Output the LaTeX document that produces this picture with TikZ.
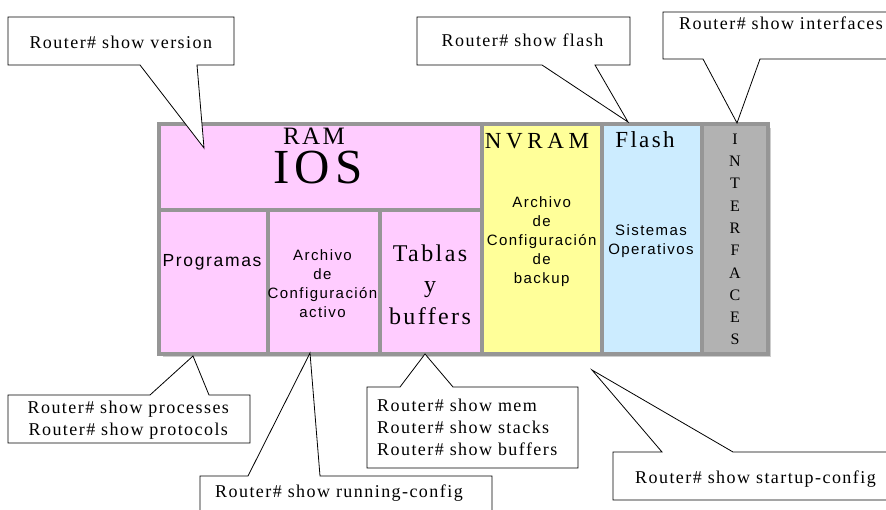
\documentclass[tikz,border=0pt]{standalone}
\usepackage{fontspec}
\setmainfont{Liberation Serif}
\newfontfamily\seriftrack[LetterSpace=10]{Liberation Serif}
\newfontfamily\serifwide[LetterSpace=20]{Liberation Serif}
\newfontfamily\callfont[LetterSpace=8]{Liberation Serif}
\newfontfamily\sanstrack[LetterSpace=9.5]{Liberation Sans}
\definecolor{rampink}{HTML}{FFCCFF}
\definecolor{nvyellow}{HTML}{FFFF99}
\definecolor{flashblue}{HTML}{CCECFF}
\definecolor{ifgray}{HTML}{B2B2B2}
\definecolor{rimgray}{HTML}{969696}
\definecolor{shadowgray}{HTML}{CDCDCD}
\tikzset{
  cell/.style={draw=rimgray,line width=4pt},
  balloon/.style={draw=black,fill=white,line width=0.8pt},
  cmd/.style={font=\callfont\fontsize{18}{22}\selectfont,inner sep=0pt,anchor=base},
  memname/.style={font=\seriftrack\fontsize{25}{28}\selectfont,inner sep=0pt,anchor=base},
  cellsans/.style={font=\sanstrack\fontsize{15}{19}\selectfont,inner sep=0pt,align=center},
}

\begin{document}
\begin{tikzpicture}[x=1pt,y=-1pt]
  \useasboundingbox (0,0) rectangle (886,510);
  % memory block
  \fill[shadowgray] (163,128) rectangle (771,357);
  \draw[cell,fill=rampink] (159,124) rectangle (482,210);
  \draw[cell,fill=rampink] (159,210) rectangle (268,354);
  \draw[cell,fill=rampink] (268,210) rectangle (380,354);
  \draw[cell,fill=rampink] (380,210) rectangle (482,354);
  \draw[cell,fill=nvyellow] (482,124) rectangle (602,354);
  \draw[cell,fill=flashblue] (602,124) rectangle (702,354);
  \draw[cell,fill=ifgray] (702,124) rectangle (768,354);

  \node[memname] (ram) at (314,145) {RAM};
  \node[memname,font=\seriftrack\fontsize{49}{52}\selectfont,text height=32pt,text depth=0pt] (ios) at (318,184) {IOS};
  \node[memname,font=\serifwide\fontsize{23}{28}\selectfont] (nvram) at (537,148.3) {NVRAM};
  \node[memname,font=\seriftrack\fontsize{23}{28}\selectfont] (flash) at (645,148) {Flash};
  \node[inner sep=0pt,anchor=base,font=\sanstrack\fontsize{17.5}{19}\selectfont] (prog) at (212,266.7) {Programas};
  \node[cellsans] (actcfg) at (322.5,283.8) {Archivo\\de\\Configuración\\activo};
  \node[inner sep=0pt,align=center,font=\seriftrack\fontsize{24}{31.5}\selectfont] (tablas) at (430,284.5) {Tablas\\y\\buffers};
  \node[cellsans] (bakcfg) at (541.7,241.3) {Archivo\\de\\Configuración\\de\\backup};
  \node[cellsans] (sistemas) at (651,241) {Sistemas\\Operativos};
  \foreach \l [count=\i] in {I,N,T,E,R,F,A,C,E,S}
    \node[inner sep=0pt,anchor=base,font=\fontsize{16}{18}\selectfont] (if\i) at (735,{144.3+22.3*(\i-1)}) {\l};

  % callouts
  \coordinate (tver) at (204,148);
  \draw[balloon] (140,65) -- (8,65) -- (8,17) -- (234,17) -- (234,65) -- (197,65) -- (tver) -- cycle;
  \node[cmd] (cver) at (120.8,48.3) {Router\# show version};

  \coordinate (tflash) at (628,122);
  \draw[balloon] (542,65) -- (417,65) -- (417,17) -- (630,17) -- (630,65) -- (595,65) -- (tflash) -- cycle;
  \node[cmd] (cflash) at (522.5,46.7) {Router\# show flash};

  \coordinate (tif) at (737,123);
  \draw[balloon] (703,59) -- (663,59) -- (663,12) -- (892,12) -- (892,59) -- (760,59) -- (tif) -- cycle;
  \node[cmd] (cif) at (781,30) {Router\# show interfaces};

  \coordinate (tproc) at (193,356);
  \draw[balloon] (150,395) -- (8,395) -- (8,443) -- (250,443) -- (250,395) -- (209,395) -- (tproc) -- cycle;
  \node[cmd,anchor=center,align=center] (cproc) at (128.3,419.7) {Router\# show processes\\Router\# show protocols};

  \coordinate (trun) at (310,353);
  \draw[balloon] (248,476) -- (200,476) -- (200,515) -- (492,515) -- (492,476) -- (320,476) -- (trun) -- cycle;
  \node[cmd] (crun) at (339,497) {Router\# show running-config};

  \coordinate (tmem) at (425,354);
  \draw[balloon] (400,387) -- (367,387) -- (367,468) -- (578,468) -- (578,387) -- (453,387) -- (tmem) -- cycle;
  \node[cmd,anchor=west,align=left] (cmem) at (377,427.8) {Router\# show mem\\Router\# show stacks\\Router\# show buffers};

  \coordinate (tstart) at (592,370);
  \draw[balloon] (662,452) -- (613,452) -- (613,500) -- (892,500) -- (892,452) -- (733,452) -- (tstart) -- cycle;
  \node[cmd] (cstart) at (755.5,483) {Router\# show startup-config};
\end{tikzpicture}
\end{document}
